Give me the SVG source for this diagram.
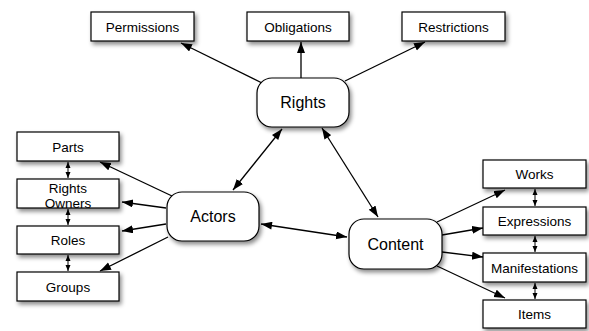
<svg xmlns="http://www.w3.org/2000/svg" width="589" height="331" viewBox="0 0 589 331">
<style>
.box{fill:#fff;stroke:#000;stroke-width:1.2;filter:url(#sh)}
.t{font-family:"Liberation Sans",Arial,sans-serif;font-size:13.5px;fill:#000;text-anchor:middle}
.big{font-size:16px}
.c{stroke:#000;stroke-width:1.3;fill:none}
.a{marker-end:url(#ah)}
.b{marker-start:url(#ahs);marker-end:url(#ah)}
.s{stroke:#000;stroke-width:1;fill:none;marker-start:url(#sms);marker-end:url(#sm)}
</style>
<defs>
<filter id="sh" x="-20%" y="-30%" width="150%" height="180%">
<feDropShadow dx="2" dy="3" stdDeviation="2" flood-color="#000" flood-opacity="0.45"/>
</filter>
<marker id="ah" markerUnits="userSpaceOnUse" markerWidth="12" markerHeight="10" refX="11" refY="4" orient="auto">
<path d="M0,0 L11,4 L0,8 Z" fill="#000"/>
</marker>
<marker id="ahs" markerUnits="userSpaceOnUse" markerWidth="12" markerHeight="10" refX="0" refY="4" orient="auto">
<path d="M11,0 L0,4 L11,8 Z" fill="#000"/>
</marker>
<marker id="sm" markerUnits="userSpaceOnUse" markerWidth="7" markerHeight="6" refX="6" refY="2.5" orient="auto">
<path d="M0,0 L6,2.5 L0,5 Z" fill="#000"/>
</marker>
<marker id="sms" markerUnits="userSpaceOnUse" markerWidth="7" markerHeight="6" refX="0" refY="2.5" orient="auto">
<path d="M6,0 L0,2.5 L6,5 Z" fill="#000"/>
</marker>
</defs>
<g id="connectors">
<line class="c a" x1="262" y1="83" x2="181" y2="43"/>
<line class="c a" x1="301" y1="78" x2="301" y2="42"/>
<line class="c a" x1="345" y1="81" x2="425" y2="42"/>
<line class="c b" x1="282" y1="129" x2="233" y2="190"/>
<line class="c b" x1="322" y1="128" x2="378" y2="217"/>
<line class="c b" x1="261" y1="224" x2="347" y2="237"/>
<line class="c a" x1="172" y1="196" x2="100" y2="162"/>
<line class="c a" x1="166" y1="208" x2="122" y2="202"/>
<line class="c a" x1="166" y1="224" x2="122" y2="231"/>
<line class="c a" x1="168" y1="237" x2="100" y2="271"/>
<line class="c a" x1="437" y1="222" x2="505" y2="190"/>
<line class="c a" x1="442" y1="235" x2="483" y2="228"/>
<line class="c a" x1="442" y1="252" x2="483" y2="257"/>
<line class="c a" x1="437" y1="266" x2="505" y2="298"/>
<line class="s" x1="68" y1="162" x2="68" y2="178"/>
<line class="s" x1="68" y1="209" x2="68" y2="225"/>
<line class="s" x1="68" y1="255" x2="68" y2="271"/>
<line class="s" x1="535" y1="189" x2="535" y2="206"/>
<line class="s" x1="535" y1="236" x2="535" y2="252"/>
<line class="s" x1="535" y1="283" x2="535" y2="299"/>
</g>
<g id="permissions"><rect class="box" x="91" y="12" width="103" height="29"/><text class="t" x="142.5" y="31.5">Permissions</text></g>
<g id="obligations"><rect class="box" x="247" y="12" width="102" height="29"/><text class="t" x="298" y="31.5">Obligations</text></g>
<g id="restrictions"><rect class="box" x="402" y="12" width="103" height="29"/><text class="t" x="453.5" y="31.5">Restrictions</text></g>
<g id="rights"><rect class="box" x="257" y="78" width="92" height="49" rx="15" ry="15"/><text class="t big" x="303" y="108">Rights</text></g>
<g id="actors"><rect class="box" x="167" y="192" width="92" height="49" rx="15" ry="15"/><text class="t big" x="213" y="222">Actors</text></g>
<g id="content"><rect class="box" x="349" y="219" width="93" height="50" rx="15" ry="15"/><text class="t big" x="395.5" y="250">Content</text></g>
<g id="parts"><rect class="box" x="17" y="132" width="102" height="29"/><text class="t" x="68" y="151.5">Parts</text></g>
<g id="rights-owners"><rect class="box" x="17" y="179" width="102" height="29"/><text class="t" x="68" y="192.5">Rights</text><text class="t" x="68" y="208">Owners</text></g>
<g id="roles"><rect class="box" x="17" y="226" width="102" height="28"/><text class="t" x="68" y="245">Roles</text></g>
<g id="groups"><rect class="box" x="17" y="272" width="102" height="29"/><text class="t" x="68" y="292">Groups</text></g>
<g id="works"><rect class="box" x="483" y="160" width="103" height="28"/><text class="t" x="534.5" y="179">Works</text></g>
<g id="expressions"><rect class="box" x="483" y="207" width="103" height="28"/><text class="t" x="534.5" y="226">Expressions</text></g>
<g id="manifestations"><rect class="box" x="483" y="253" width="103" height="29"/><text class="t" x="534.5" y="273">Manifestations</text></g>
<g id="items"><rect class="box" x="483" y="300" width="103" height="28"/><text class="t" x="534.5" y="319">Items</text></g>
</svg>
